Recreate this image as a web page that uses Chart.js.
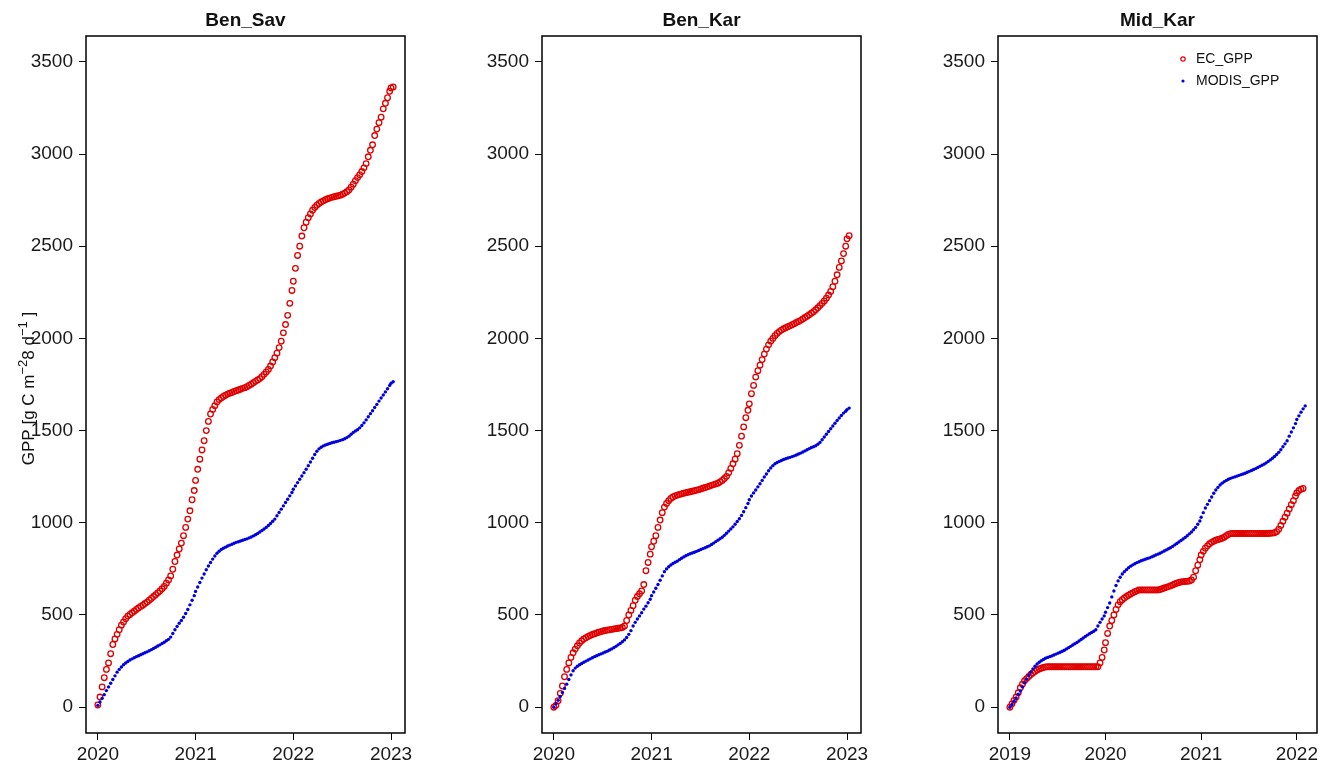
<!DOCTYPE html>
<html>
<head>
<meta charset="utf-8">
<title>GPP EC vs MODIS</title>
<script src="https://cdn.jsdelivr.net/npm/chart.js@4.4.1/dist/chart.umd.min.js"></script>
<style>
  body { margin: 0; background: #fff; }
  #wrap { position: relative; width: 1328px; height: 765px; overflow: hidden; }
  canvas { position: absolute; top: 0; }
</style>
</head>
<body>
<div id="wrap">
  <canvas id="benSav" width="440" height="765" style="left:0px"></canvas>
  <canvas id="benKar" width="440" height="765" style="left:456px"></canvas>
  <canvas id="midKar" width="416" height="765" style="left:912px"></canvas>
</div>
<script>
// cumulative GPP, 8-day steps (46 per year)
const benSavEC = [
  12, 55, 110, 160, 205, 240, 290, 340, 370, 395, 420, 445, 462, 480, 494, 503, 512, 520, 530, 538, 546, 553, 562,
  570, 580, 590, 600, 610, 620, 630, 642, 655, 672, 690, 712, 748, 790, 825, 858, 890, 930, 975, 1020, 1065, 1125, 1175,
  1230, 1290, 1345, 1395, 1445, 1500, 1550, 1590, 1615, 1635, 1655, 1668, 1677, 1685, 1692, 1698, 1703, 1707, 1712, 1716, 1720, 1724, 1729,
  1733, 1738, 1745, 1752, 1760, 1767, 1775, 1782, 1792, 1805, 1818, 1832, 1850, 1872, 1895, 1920, 1950, 1985, 2030, 2075, 2125, 2190, 2260,
  2310, 2380, 2450, 2500, 2555, 2600, 2630, 2655, 2675, 2695, 2710, 2722, 2732, 2740, 2746, 2752, 2757, 2761, 2765, 2768, 2771, 2774, 2777,
  2782, 2788, 2796, 2805, 2820, 2836, 2855, 2872, 2888, 2905, 2925, 2948, 2985, 3020, 3050, 3100, 3135, 3170, 3200, 3245, 3275, 3305, 3340,
  3358, 3364
];
const benSavMODIS = [
  10, 28, 48, 68, 90, 110, 130, 150, 170, 190, 205, 218, 230, 240, 248, 256, 262, 268, 274, 279, 284, 290, 295,
  300, 306, 312, 318, 325, 332, 338, 345, 352, 360, 368, 380, 400, 420, 438, 455, 470, 488, 508, 530, 555, 580, 605,
  628, 652, 676, 700, 722, 745, 766, 785, 803, 820, 835, 846, 855, 862, 868, 874, 879, 884, 889, 894, 897, 901, 905,
  909, 913, 918, 923, 929, 935, 942, 950, 958, 966, 975, 985, 996, 1008, 1020, 1038, 1056, 1074, 1092, 1110, 1128, 1146, 1164,
  1182, 1200, 1218, 1236, 1254, 1272, 1290, 1310, 1330, 1350, 1370, 1388, 1401, 1410, 1417, 1422, 1426, 1430, 1434, 1437, 1440, 1443, 1447,
  1451, 1456, 1462, 1470, 1480, 1490, 1498, 1505, 1515, 1528, 1542, 1558, 1575, 1592, 1608, 1625, 1642, 1660, 1677, 1693, 1710, 1727, 1745,
  1757, 1765
];
const benKarEC = [
  0, 10, 35, 75, 115, 165, 205, 240, 270, 295, 315, 333, 348, 360, 370, 377, 383, 389, 394, 398, 402, 406, 410,
  413, 416, 418, 420, 422, 424, 426, 428, 430, 432, 440, 470, 500, 525, 550, 580, 600, 615, 630, 665, 740, 785, 830,
  870, 900, 930, 975, 1015, 1055, 1085, 1105, 1120, 1132, 1140, 1146, 1150, 1154, 1157, 1160, 1163, 1166, 1168, 1171, 1174, 1177, 1180,
  1183, 1187, 1191, 1195, 1199, 1203, 1207, 1211, 1215, 1222, 1230, 1240, 1252, 1272, 1295, 1320, 1345, 1375, 1420, 1470, 1520, 1570, 1610,
  1645, 1700, 1745, 1790, 1825, 1855, 1885, 1915, 1942, 1965, 1985, 2000, 2015, 2027, 2037, 2045, 2052, 2058, 2063, 2068, 2074, 2080, 2086,
  2092, 2098, 2105, 2113, 2120, 2128, 2136, 2145, 2155, 2166, 2178, 2190, 2203, 2218, 2235, 2255, 2280, 2310, 2345, 2385, 2420, 2460, 2500,
  2540, 2557
];
const benKarMODIS = [
  0, 18, 38, 58, 80, 102, 125, 150, 175, 198, 212, 222, 230, 237, 244, 250, 256, 262, 268, 274, 279, 284, 289,
  294, 299, 304, 310, 316, 323, 330, 338, 346, 355, 365, 378, 395, 415, 440, 460, 478, 495, 512, 532, 548, 566, 585,
  605, 625, 645, 665, 688, 712, 735, 750, 762, 771, 779, 786, 792, 800, 808, 815, 821, 827, 832, 836, 840, 845, 850,
  855, 860, 865, 870, 875, 882, 890, 898, 906, 914, 922, 932, 943, 955, 966, 978, 992, 1007, 1022, 1040, 1060, 1082, 1105,
  1125, 1145, 1162, 1178, 1195, 1212, 1230, 1248, 1265, 1282, 1297, 1310, 1320, 1327, 1333, 1338, 1343, 1347, 1351, 1355, 1359, 1363, 1368,
  1373, 1378, 1384, 1390, 1396, 1402, 1408, 1412, 1418, 1426, 1436, 1450, 1465, 1480, 1495, 1510, 1525, 1540, 1555, 1568, 1582, 1595, 1605,
  1614, 1622
];
const midKarEC = [
  0, 18, 37, 55, 78, 105, 125, 143, 155, 167, 177, 186, 194, 201, 207, 211, 215, 218, 219, 219, 219, 219, 219,
  219, 219, 219, 219, 219, 219, 219, 219, 219, 219, 219, 219, 219, 219, 219, 219, 219, 219, 219, 219, 240, 270, 310,
  350, 400, 440, 470, 500, 530, 555, 572, 583, 592, 600, 607, 614, 620, 626, 631, 636, 636, 636, 636, 636, 636, 636,
  636, 636, 636, 638, 642, 646, 650, 654, 658, 663, 668, 672, 676, 679, 681, 682, 683, 684, 690, 705, 740, 770, 800,
  825, 845, 862, 875, 886, 894, 900, 905, 909, 912, 916, 922, 930, 937, 941, 942, 942, 942, 942, 942, 942, 942, 942,
  942, 942, 942, 942, 942, 942, 942, 942, 942, 942, 943, 944, 946, 952, 965, 985, 1008, 1030, 1052, 1075, 1098, 1120,
  1145, 1162, 1175, 1182, 1186
];
const midKarMODIS = [
  0, 15, 32, 50, 70, 88, 110, 132, 152, 172, 190, 208, 222, 234, 244, 252, 259, 265, 270, 274, 278, 283, 288,
  293, 298, 303, 309, 316, 323, 330, 337, 344, 351, 359, 367, 375, 383, 391, 398, 405, 412, 420, 440, 460, 478, 495,
  515, 540, 565, 598, 630, 660, 685, 705, 722, 735, 746, 756, 765, 772, 778, 784, 789, 794, 798, 802, 806, 810, 815,
  820, 825, 830, 835, 841, 847, 853, 859, 865, 872, 880, 888, 896, 904, 912, 920, 930, 940, 950, 962, 975, 992, 1010,
  1030, 1055, 1080, 1100, 1120, 1140, 1160, 1178, 1192, 1205, 1215, 1223, 1230, 1236, 1241, 1245, 1249, 1253, 1257, 1261, 1265, 1269, 1274,
  1279, 1284, 1289, 1294, 1300, 1306, 1312, 1318, 1325, 1333, 1341, 1350, 1360, 1370, 1382, 1396, 1412, 1428, 1445, 1470, 1492, 1515, 1538,
  1560, 1580, 1600, 1618, 1634
];

const yTicks = [0, 500, 1000, 1500, 2000, 2500, 3000, 3500];
const yearsBen = [2020, 2021, 2022, 2023];
const yearsMid = [2019, 2020, 2021, 2022];

const FONT = "'Liberation Sans', Arial, Helvetica, sans-serif";
const RED = '#e00000';
const BLUE = '#0000e0';

// decimal year of each 8-day composite (DOY 1, 9, 17, ... 361)
function compositeDates(startYear, n) {
  const out = [];
  for (let i = 0; i < n; i++) {
    const yr = startYear + Math.floor(i / 46);
    out.push(yr + (8 * (i % 46)) / 365);
  }
  return out;
}

function toPoints(dates, vals) {
  return vals.map((v, i) => ({ x: dates[i], y: v }));
}

// frame, title, optional y label and legend
const decor = {
  id: 'decor',
  afterDraw(chart, args, opts) {
    const { ctx, chartArea: a } = chart;
    ctx.save();
    ctx.strokeStyle = '#000';
    ctx.lineWidth = 1.5;
    ctx.strokeRect(a.left, a.top, a.right - a.left, a.bottom - a.top);

    ctx.fillStyle = '#111';
    ctx.font = 'bold 19px ' + FONT;
    ctx.textAlign = 'center';
    ctx.textBaseline = 'alphabetic';
    ctx.fillText(opts.title, (a.left + a.right) / 2, 26);

    if (opts.yLabel) {
      const parts = [
        ['GPP [g C m', 17, 0], ['\u22122', 13, -7], ['8', 17, 0], [' d', 17, 0], ['\u22121', 13, -7], [' ]', 17, 0]
      ];
      let total = 0;
      parts.forEach(p => { ctx.font = p[1] + 'px ' + FONT; total += ctx.measureText(p[0]).width; });
      ctx.translate(34, (a.top + a.bottom) / 2 + 4);
      ctx.rotate(-Math.PI / 2);
      ctx.textAlign = 'left';
      let x = -total / 2;
      parts.forEach(p => {
        ctx.font = p[1] + 'px ' + FONT;
        ctx.fillText(p[0], x, p[2]);
        x += ctx.measureText(p[0]).width;
      });
      ctx.setTransform(1, 0, 0, 1, 0, 0);
    }

    if (opts.legend) {
      const lx = a.left + 185, ty = 59;
      ctx.font = '14px ' + FONT;
      ctx.textAlign = 'left';
      ctx.textBaseline = 'middle';
      ctx.fillStyle = '#111';
      ctx.fillText('EC_GPP', lx + 13, ty);
      ctx.fillText('MODIS_GPP', lx + 13, ty + 22);
      ctx.beginPath();
      ctx.arc(lx, ty, 2.2, 0, Math.PI * 2);
      ctx.strokeStyle = RED;
      ctx.lineWidth = 1.2;
      ctx.stroke();
      ctx.beginPath();
      ctx.arc(lx, ty + 22, 1.6, 0, Math.PI * 2);
      ctx.fillStyle = BLUE;
      ctx.fill();
    }
    ctx.restore();
  }
};

function makePanel(id, title, startYear, ec, modis, years, xMin, xMax, padRight, extra) {
  const ecDates = compositeDates(startYear, ec.length);
  const modisDates = compositeDates(startYear, modis.length);
  const tickFont = { family: FONT, size: 19 };
  const axisGrid = { drawOnChartArea: false, drawTicks: true, tickLength: 7, tickColor: '#000', lineWidth: 1 };
  return new Chart(document.getElementById(id), {
    type: 'scatter',
    data: {
      datasets: [
        {
          label: 'MODIS_GPP', data: toPoints(modisDates, modis), order: 1,
          pointStyle: 'circle', pointRadius: 1.7, pointBorderWidth: 0,
          pointBackgroundColor: BLUE, showLine: false
        },
        {
          label: 'EC_GPP', data: toPoints(ecDates, ec), order: 2,
          pointStyle: 'circle', pointRadius: 2.8, pointBorderWidth: 1.3,
          pointBorderColor: RED, pointBackgroundColor: 'rgba(0,0,0,0)', showLine: false
        }
      ]
    },
    options: {
      responsive: false,
      animation: false,
      devicePixelRatio: 1,
      layout: { padding: { top: 36, right: padRight, left: 0, bottom: 0 } },
      plugins: {
        legend: { display: false },
        tooltip: { enabled: false },
        decor: Object.assign({ title: title }, extra)
      },
      scales: {
        x: {
          type: 'linear', min: xMin, max: xMax,
          afterBuildTicks: s => { s.ticks = years.map(v => ({ value: v })); },
          afterFit: s => { s.height = 32; },
          ticks: { font: tickFont, color: '#1a1a1a', padding: 3, maxRotation: 0, callback: v => String(v) },
          grid: axisGrid,
          border: { display: false }
        },
        y: {
          min: -140, max: 3640,
          afterBuildTicks: s => { s.ticks = yTicks.map(v => ({ value: v })); },
          afterFit: s => { s.width = 86; },
          ticks: { font: tickFont, color: '#1a1a1a', padding: 6, callback: v => String(v) },
          grid: axisGrid,
          border: { display: false }
        }
      }
    },
    plugins: [decor]
  });
}

makePanel('benSav', 'Ben_Sav', 2020, benSavEC, benSavMODIS, yearsBen, 2019.879, 2023.143, 35, { yLabel: true });
makePanel('benKar', 'Ben_Kar', 2020, benKarEC, benKarMODIS, yearsBen, 2019.879, 2023.143, 35, {});
makePanel('midKar', 'Mid_Kar', 2019, midKarEC, midKarMODIS, yearsMid, 2018.876, 2022.211, 11, { legend: true });
</script>
</body>
</html>
